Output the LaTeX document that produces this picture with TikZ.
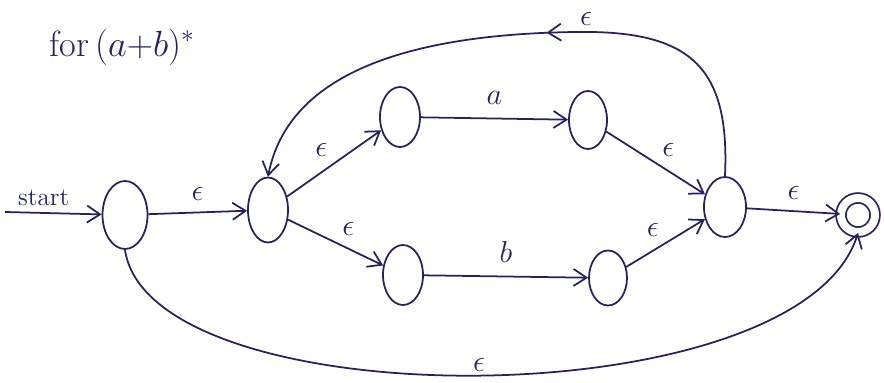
\documentclass[tikz,border=0pt]{standalone}
\usetikzlibrary{arrows.meta,positioning,shapes.geometric,decorations.markings}
\definecolor{ink}{RGB}{35,35,95}

\begin{document}
\begin{tikzpicture}[
  x=0.2mm,y=-0.2mm,
  >={Straight Barb[length=2.6mm,width=3.4mm]},
  state/.style={ellipse,draw=ink,line width=1pt,minimum width=8mm,minimum height=12mm,inner sep=0pt},
  accept/.style={circle,draw=ink,line width=1pt,double,double distance=1.6mm,minimum size=6.8mm,inner sep=0pt},
  lbl/.style={text=ink,font=\LARGE},
  edge/.style={->,draw=ink,line width=1pt}
]
  \useasboundingbox (0,0) rectangle (884,383);

  \node[lbl,font=\huge] (title) at (122,47) {for\,$(a{+}b)^{*}$};

  % states
  \node[state,minimum width=9mm,minimum height=13.6mm] (q0) at (125,215) {};
  \node[state,minimum height=13mm] (q1) at (268,210) {};
  \node[state] (q2) at (400,117) {};
  \node[state,minimum width=7.6mm,minimum height=11.6mm] (q3) at (588,120) {};
  \node[state] (q4) at (403,275) {};
  \node[state,minimum width=7.6mm,minimum height=11mm] (q5) at (608,278) {};
  \node[state,minimum width=8.4mm] (q6) at (725,207) {};
  \node[accept] (q7) at (858,215) {};
  \coordinate (start) at (5,212);

  % transitions
  \draw[edge] (start) -- (q0) node[lbl,pos=0.4,above,font=\Large] {start};
  \draw[edge] (q0) -- (q1) node[lbl,midway,above=1mm] {$\epsilon$};
  \draw[edge] (q1) -- (q2) node[lbl,midway,above left] {$\epsilon$};
  \draw[edge] (q1) -- (q4) node[lbl,midway,above right] {$\epsilon$};
  \draw[edge] (q2) -- (q3) node[lbl,midway,above=1.5mm] {$a$};
  \draw[edge] (q4) -- (q5) node[lbl,midway,above=1.5mm] {$b$};
  \draw[edge] (q3) -- (q6) node[lbl,midway,above right] {$\epsilon$};
  \draw[edge] (q5) -- (q6) node[lbl,midway,above left] {$\epsilon$};
  \draw[edge] (q6) -- (q7) node[lbl,midway,above=1mm] {$\epsilon$};

  % loop back over the top
  \draw[edge,postaction={decorate,decoration={markings,
      mark=at position 0.45 with {\arrow{Straight Barb[length=2.6mm,width=3.4mm]}}}}]
    (q6.north) .. controls (730,66) and (690,30) .. (575,32)
    node[lbl,inner sep=1pt,right=0.5mm,yshift=2.6mm] {$\epsilon$}
    .. controls (430,34) and (290,64) .. (q1.north);

  % skip along the bottom
  \draw[edge] (q0.south) .. controls (150,420) and (800,420) .. (q7.south)
    node[lbl,pos=0.5,above=-0.5mm] {$\epsilon$};
\end{tikzpicture}
\end{document}
